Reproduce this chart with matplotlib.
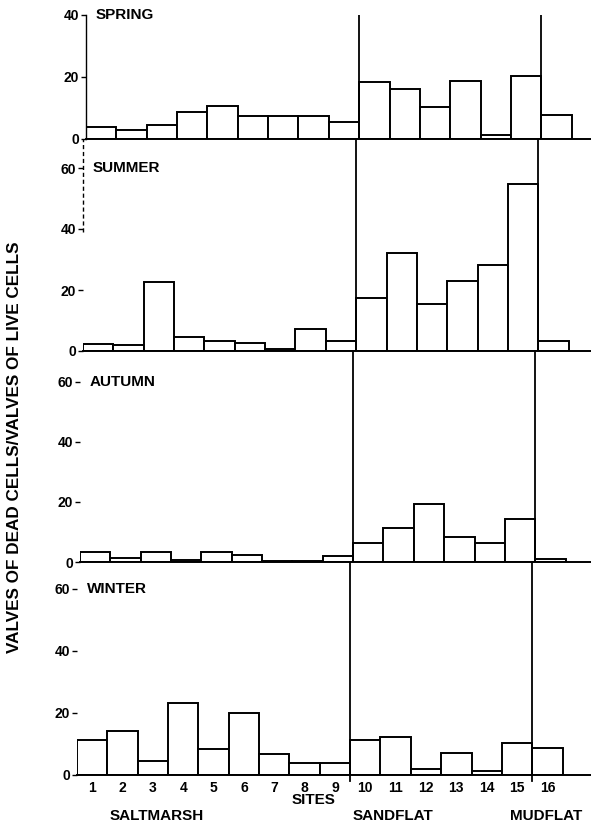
import matplotlib
matplotlib.use('Agg')
import matplotlib.pyplot as plt

sites = list(range(1, 17))
spring = [4.0, 2.9, 4.4, 8.7, 10.6, 7.4, 7.4, 7.3, 5.6, 18.5, 16.2, 10.2, 18.8, 1.3, 20.4, 7.8]
summer = [2.3, 2.1, 22.6, 4.7, 3.4, 2.7, 0.8, 7.3, 3.4, 17.4, 32.2, 15.4, 23.0, 28.1, 54.8, 3.2]
autumn = [3.4, 1.4, 3.3, 0.7, 3.3, 2.3, 0.3, 0.2, 2.0, 6.3, 11.2, 19.3, 8.2, 6.2, 14.2, 1.1]
winter = [11.3, 14.1, 4.5, 23.3, 8.3, 20.1, 6.8, 3.8, 3.9, 11.3, 12.4, 1.8, 7.2, 1.3, 10.2, 8.7]
season_names = ['SPRING', 'SUMMER', 'AUTUMN', 'WINTER']
habitat_breaks = [9.5, 15.5]
habitats = [('SALTMARSH', 3.14), ('SANDFLAT', 10.91), ('MUDFLAT', 15.95)]

plt.rcParams['font.family'] = ['Liberation Sans', 'DejaVu Sans']
plt.rcParams['font.weight'] = 'bold'

W, H = 591, 823
fig = plt.figure(figsize=(W / 100, H / 100), dpi=100)

# (left px, top px, baseline px, px per unit) - the scan is slightly skewed
panels = [(86, 15, 139, 3.1), (83, 139, 351, 3.05), (80, 351, 562, 3.0), (77, 562, 775, 3.1)]
right_px = 591
px_per_site = 30.35

series = [spring, summer, autumn, winter]
yticks_list = [[0, 20, 40], [0, 20, 40, 60], [0, 20, 40, 60], [0, 20, 40, 60]]
axes = []
for i, (left, top, base, scale) in enumerate(panels):
    ax = fig.add_axes([left / W, 1 - base / H, (right_px - left) / W, (base - top) / H])
    ax.bar(sites, series[i], width=1.0, color='white', edgecolor='black', linewidth=1.4, zorder=2)
    ax.set_xlim(0.5, 0.5 + (right_px - left) / px_per_site)
    ax.set_ylim(0, (base - top) / scale)
    for xb in habitat_breaks:
        ax.axvline(xb, color='black', linewidth=1.3, zorder=3)
    for side in ['top', 'right', 'left']:
        ax.spines[side].set_visible(False)
    ax.spines['bottom'].set_linewidth(1.4)
    ax.set_yticks(yticks_list[i])
    ax.tick_params(axis='y', direction='out', length=3.5, width=1, pad=1.5, labelsize=10)
    ax.tick_params(axis='x', length=0)
    ax.patch.set_alpha(0)
    ax.text(0.5 + 10 / px_per_site, yticks_list[i][-1], season_names[i],
            fontsize=11, fontweight='bold', va='center', ha='left')
    if i < 3:
        ax.set_xticklabels([])
    axes.append(ax)

# partial left axis lines as in the original
axes[0].plot([0.5, 0.5], [0, 40], color='black', linewidth=1, clip_on=False)
axes[1].plot([0.5, 0.5], [39, axes[1].get_ylim()[1]], color='black', linewidth=1,
             linestyle=(0, (3, 2)), clip_on=False)

ax_w = axes[3]
ax_w.set_xticks(sites)
ax_w.set_xticklabels([str(s) for s in sites], fontsize=10)
ax_w.tick_params(axis='x', pad=4)
for xb in habitat_breaks:
    ax_w.plot([xb, xb], [0, -2], color='black', linewidth=1.3, clip_on=False)

inv = fig.transFigure.inverted()
sx = inv.transform(ax_w.transData.transform((8.28, 0)))[0]
fig.text(sx, 1 - 800 / H, 'SITES', ha='center', va='center', fontsize=11, fontweight='bold')
for name, xpos in habitats:
    hx = inv.transform(ax_w.transData.transform((xpos, 0)))[0]
    fig.text(hx, 1 - 816 / H, name, ha='center', va='center', fontsize=11, fontweight='bold')

fig.text(15 / W, 1 - 447 / H, 'VALVES OF DEAD CELLS/VALVES OF LIVE CELLS', rotation=90,
         ha='center', va='center', fontsize=12.3, fontweight='bold')

fig.savefig('out.png', dpi=100)
